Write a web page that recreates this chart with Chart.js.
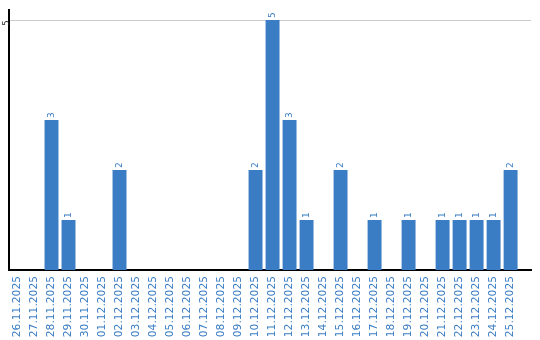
<!DOCTYPE html>
<html>
<head>
<meta charset="utf-8">
<script src="https://cdn.jsdelivr.net/npm/chart.js@4"></script>
<style>
  html, body { margin: 0; padding: 0; background: #fff; }
  #wrap { width: 540px; height: 340px; }
</style>
</head>
<body>
<div id="wrap"><canvas id="chart" width="540" height="340"></canvas></div>
<script>
const days = [
  "26.11.2025", "27.11.2025", "28.11.2025", "29.11.2025", "30.11.2025",
  "01.12.2025", "02.12.2025", "03.12.2025", "04.12.2025", "05.12.2025",
  "06.12.2025", "07.12.2025", "08.12.2025", "09.12.2025", "10.12.2025",
  "11.12.2025", "12.12.2025", "13.12.2025", "14.12.2025", "15.12.2025",
  "16.12.2025", "17.12.2025", "18.12.2025", "19.12.2025", "20.12.2025",
  "21.12.2025", "22.12.2025", "23.12.2025", "24.12.2025", "25.12.2025"
];
const counts = [0, 0, 3, 1, 0, 0, 2, 0, 0, 0, 0, 0, 0, 0, 2, 5, 3, 1, 0, 2, 0, 1, 0, 1, 0, 1, 1, 1, 1, 2];
const yTicks = [5];

const blue = "#3b7dc4";
const font = "DejaVu Sans";

// value labels above bars + rotated y tick, drawn on the canvas
const labelPlugin = {
  id: "labels",
  afterDatasetsDraw(chart) {
    const ctx = chart.ctx;
    const meta = chart.getDatasetMeta(0);
    ctx.save();
    ctx.font = "9px " + font;
    ctx.fillStyle = blue;
    ctx.textAlign = "left";
    ctx.textBaseline = "middle";
    meta.data.forEach((bar, i) => {
      if (!counts[i]) return;
      ctx.save();
      ctx.translate(bar.x + 0.5, bar.y - 2);
      ctx.rotate(-Math.PI / 2);
      ctx.fillText(String(counts[i]), 0, 0);
      ctx.restore();
    });
    const y = chart.scales.y;
    ctx.fillStyle = "#222";
    ctx.textAlign = "center";
    ctx.font = "8px " + font;
    yTicks.forEach(v => {
      ctx.save();
      ctx.translate(6.5, y.getPixelForValue(v) + 3);
      ctx.rotate(-Math.PI / 2);
      ctx.fillText(String(v), 0, 0);
      ctx.restore();
    });
    ctx.restore();
  }
};

new Chart(document.getElementById("chart").getContext("2d"), {
  type: "bar",
  data: {
    labels: days,
    datasets: [{
      data: counts,
      backgroundColor: blue,
      barPercentage: 0.82,
      categoryPercentage: 1
    }]
  },
  options: {
    responsive: false,
    animation: false,
    layout: { padding: { top: 10, right: 9, left: 0, bottom: 0 } },
    plugins: { legend: { display: false }, tooltip: { enabled: false } },
    scales: {
      x: {
        // leave some empty room after the last day, as in the original
        afterBuildTicks(s) { s._valueRange = days.length + 0.7; },
        grid: { display: false },
        border: { color: "#000", width: 2 },
        ticks: {
          color: blue,
          font: { family: font, size: 10.7 },
          minRotation: 90, maxRotation: 90,
          autoSkip: false,
          padding: -2
        },
        afterFit(s) { s.height = 70; }
      },
      y: {
        min: 0, max: 5.2,
        afterBuildTicks(s) { s.ticks = yTicks.map(v => ({ value: v })); },
        ticks: { display: false },
        grid: { color: "#cccccc", lineWidth: 1, drawTicks: false },
        border: { color: "#000", width: 2 },
        afterFit(s) { s.width = 9; }
      }
    }
  },
  plugins: [labelPlugin]
});
</script>
</body>
</html>
